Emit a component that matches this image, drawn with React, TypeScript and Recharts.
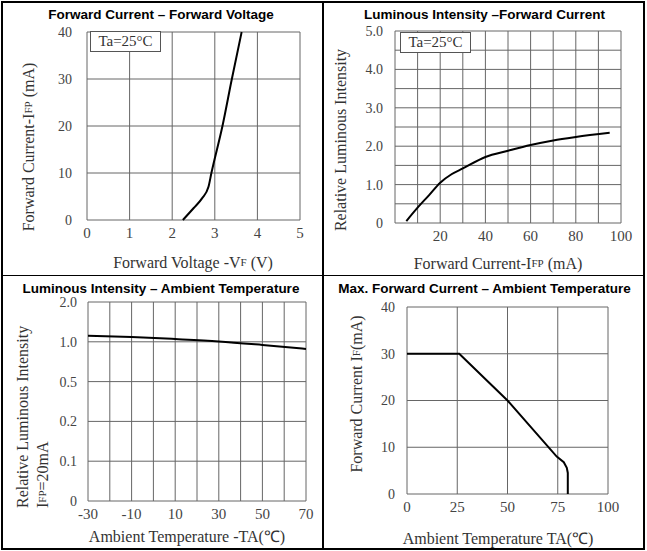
import React from 'react';
import { LineChart, Line, XAxis, YAxis, CartesianGrid, Label } from 'recharts';

// Forward current vs forward voltage
const fvVoltage = [2.25, 2.5, 2.7, 2.85, 2.92, 3.18, 3.4, 3.63];
const fvCurrent = [0, 2.5, 4.6, 7, 10, 20, 30, 40];
const fvXTicks = [0, 1, 2, 3, 4, 5];
const fvYTicks = [0, 10, 20, 30, 40];

// Relative luminous intensity vs forward current
const liCurrent = [5, 10, 15, 20, 25, 30, 40, 50, 60, 70, 80, 95];
const liIntensity = [0.05, 0.4, 0.72, 1.05, 1.27, 1.42, 1.72, 1.88, 2.03, 2.15, 2.24, 2.35];
const liXTicks = [0, 10, 20, 30, 40, 50, 60, 70, 80, 90, 100];
const liXLabels = [20, 40, 60, 80, 100];
const liYTicks = [0, 0.5, 1, 1.5, 2, 2.5, 3, 3.5, 4, 4.5, 5];

// Relative luminous intensity vs ambient temperature (non-uniform y scale)
const ltTemp = [-30, -10, 10, 30, 50, 70];
const ltIntensity = [1.15, 1.12, 1.07, 1.01, 0.96, 0.91];
const ltXTicks = [-30, -20, -10, 0, 10, 20, 30, 40, 50, 60, 70];
const ltXLabels = [-30, -10, 10, 30, 50, 70];
const ltYLevels = [0, 0.1, 0.2, 0.5, 1.0, 2.0];
const ltYLabels = ['0', '0.1', '0.2', '0.5', '1.0', '2.0'];

// Max forward current vs ambient temperature
const mfTemp = [0, 26, 50, 74.5, 78, 79.5, 80, 80];
const mfCurrent = [30, 30, 20, 8, 6.8, 5.6, 4.5, 0];
const mfXTicks = [0, 25, 50, 75, 100];
const mfYTicks = [0, 10, 20, 30, 40];

const SERIF = '"Liberation Serif", "Times New Roman", serif';
const SANS = '"Liberation Sans", Arial, sans-serif';
const GRID = '#666';

const fvData = fvVoltage.map((x, i) => ({ x, y: fvCurrent[i] }));
const liData = liCurrent.map((x, i) => ({ x, y: liIntensity[i] }));
const ltData = ltTemp.map((x, i) => ({ x, y: ltIntensity[i] }));
const mfData = mfTemp.map((x, i) => ({ x, y: mfCurrent[i] }));

// position of a value on the stepped axis 0 / 0.1 / 0.2 / 0.5 / 1.0 / 2.0
function levelPos(v: number): number {
  for (let i = 1; i < ltYLevels.length; i++) {
    if (v <= ltYLevels[i]) {
      const a = ltYLevels[i - 1];
      const b = ltYLevels[i];
      return i - 1 + (v - a) / (b - a);
    }
  }
  return ltYLevels.length - 1;
}

type Part = [string, boolean?];

function AxisTitle({ x, y, vertical, parts, anchor = 'middle' }: { x: number; y: number; vertical?: boolean; parts: Part[]; anchor?: string }) {
  return (
    <text
      x={x}
      y={y}
      transform={vertical ? `rotate(-90 ${x} ${y})` : undefined}
      textAnchor={anchor}
      dominantBaseline="central"
      fontFamily={SERIF}
      fontSize={16}
      fill="#333"
    >
      {parts.map(([t, small], i) => (
        <tspan key={i} fontSize={small ? 11 : undefined}>{t}</tspan>
      ))}
    </text>
  );
}

const tickX = { fontSize: 15, fill: '#444', fontFamily: SERIF };
const tickY = { fontSize: 14, fill: '#444', fontFamily: SERIF };

function Title({ left, top, width, text }: { left: number; top: number; width: number; text: string }) {
  return (
    <div style={{ position: 'absolute', left, top, width, textAlign: 'center', fontFamily: SANS, fontWeight: 'bold', fontSize: 13.5, lineHeight: '16px', color: '#000', whiteSpace: 'nowrap' }}>
      {text}
    </div>
  );
}

function TaBox({ left, top }: { left: number; top: number }) {
  return (
    <div style={{ position: 'absolute', left, top, width: 71, height: 21, boxSizing: 'border-box', border: '1px solid #555', background: '#fff', fontFamily: SERIF, fontSize: 15, lineHeight: '19px', textAlign: 'center', color: '#333' }}>
      Ta=25°C
    </div>
  );
}

export default function App() {
  return (
    <div style={{ position: 'absolute', left: 0, top: 0, width: 647, height: 551, background: '#fff', overflow: 'hidden' }}>
      {/* top-left */}
      <div style={{ position: 'absolute', left: 0, top: 0 }}>
        <LineChart width={322} height={275} data={fvData} margin={{ top: 32, right: 22, bottom: 0, left: 0 }}>
          <CartesianGrid stroke={GRID} strokeWidth={1} />
          <XAxis dataKey="x" type="number" domain={[0, 5]} ticks={fvXTicks} interval={0} height={55} axisLine={false} tickLine={false} tickSize={0} tickMargin={7} tick={tickX}>
            <Label content={() => <AxisTitle x={193} y={262} parts={[['Forward Voltage -V'], ['F', true], [' (V)']]} />} />
          </XAxis>
          <YAxis type="number" domain={[0, 40]} ticks={fvYTicks} interval={0} width={87} axisLine={false} tickLine={false} tickSize={0} tickMargin={15} tick={tickY}>
            <Label content={() => <AxisTitle x={28} y={147} vertical parts={[['Forward Current-I'], ['FP', true], [' (mA)']]} />} />
          </YAxis>
          <Line dataKey="y" type="monotone" stroke="#000" strokeWidth={2} dot={false} isAnimationActive={false} />
        </LineChart>
      </div>
      <Title left={0} top={7} width={322} text="Forward Current – Forward Voltage" />
      <TaBox left={90} top={31} />

      {/* top-right */}
      <div style={{ position: 'absolute', left: 323, top: 0 }}>
        <LineChart width={323} height={275} data={liData} margin={{ top: 31, right: 25, bottom: 0, left: 0 }}>
          <CartesianGrid stroke={GRID} strokeWidth={1} />
          <XAxis dataKey="x" type="number" domain={[0, 100]} ticks={liXTicks} interval={0} height={52} axisLine={false} tickLine={false} tickSize={0} tickMargin={7}
            tick={tickX} tickFormatter={(v: number) => (liXLabels.includes(v) ? String(v) : '')}>
            <Label content={() => <AxisTitle x={175} y={263} parts={[['Forward Current-I'], ['FP', true], [' (mA)']]} />} />
          </XAxis>
          <YAxis type="number" domain={[0, 5]} ticks={liYTicks} interval={0} width={72} axisLine={false} tickLine={false} tickSize={0} tickMargin={12}
            tick={tickY} tickFormatter={(v: number) => (v === 0 ? '0' : Number.isInteger(v) ? v.toFixed(1) : '')}>
            <Label content={() => <AxisTitle x={17} y={140} vertical parts={[['Relative Luminous Intensity']]} />} />
          </YAxis>
          <Line dataKey="y" type="monotone" stroke="#000" strokeWidth={2} dot={false} isAnimationActive={false} />
        </LineChart>
      </div>
      <Title left={323} top={7} width={323} text="Luminous Intensity –Forward Current" />
      <TaBox left={400} top={32} />

      {/* bottom-left */}
      <div style={{ position: 'absolute', left: 0, top: 276 }}>
        <LineChart width={322} height={274} data={ltData} margin={{ top: 26, right: 16, bottom: 0, left: 0 }}>
          <CartesianGrid stroke={GRID} strokeWidth={1} />
          <XAxis dataKey="x" type="number" domain={[-30, 70]} ticks={ltXTicks} interval={0} height={49} axisLine={false} tickLine={false} tickSize={0} tickMargin={7}
            tick={tickX} tickFormatter={(v: number) => (ltXLabels.includes(v) ? String(v) : '')}>
            <Label content={() => <AxisTitle x={187} y={260} parts={[['Ambient Temperature -TA(℃)']]} />} />
          </XAxis>
          <YAxis type="number" domain={[0, 5]} ticks={[0, 1, 2, 3, 4, 5]} interval={0} width={88} axisLine={false} tickLine={false} tickSize={0} tickMargin={11}
            tick={tickY} tickFormatter={(v: number) => ltYLabels[v] ?? ''}>
            <Label content={() => (
              <g>
                <AxisTitle x={22} y={232} vertical anchor="start" parts={[['Relative Luminous Intensity']]} />
                <AxisTitle x={42} y={232} vertical anchor="start" parts={[['I'], ['FP', true], ['=20mA']]} />
              </g>
            )} />
          </YAxis>
          <Line dataKey={(d: { y: number }) => levelPos(d.y)} type="monotone" stroke="#000" strokeWidth={2} dot={false} isAnimationActive={false} />
        </LineChart>
      </div>
      <Title left={0} top={281} width={322} text="Luminous Intensity – Ambient Temperature" />

      {/* bottom-right */}
      <div style={{ position: 'absolute', left: 323, top: 276 }}>
        <LineChart width={323} height={274} data={mfData} margin={{ top: 31, right: 38, bottom: 0, left: 0 }}>
          <CartesianGrid stroke={GRID} strokeWidth={1} />
          <XAxis dataKey="x" type="number" domain={[0, 100]} ticks={mfXTicks} interval={0} height={56} axisLine={false} tickLine={false} tickSize={0} tickMargin={7} tick={tickX}>
            <Label content={() => <AxisTitle x={175} y={262} parts={[['Ambient Temperature TA(℃)']]} />} />
          </XAxis>
          <YAxis type="number" domain={[0, 40]} ticks={mfYTicks} interval={0} width={84} axisLine={false} tickLine={false} tickSize={0} tickMargin={12} tick={tickY}>
            <Label content={() => <AxisTitle x={33} y={118} vertical parts={[['Forward Current I'], ['F', true], ['(mA)']]} />} />
          </YAxis>
          <Line dataKey="y" type="linear" stroke="#000" strokeWidth={2} dot={false} isAnimationActive={false} />
        </LineChart>
      </div>
      <Title left={323} top={281} width={323} text="Max. Forward Current – Ambient Temperature" />

      {/* frame */}
      <div style={{ position: 'absolute', left: 1, top: 1, width: 644, height: 549, boxSizing: 'border-box', border: '2px solid #000' }} />
      <div style={{ position: 'absolute', left: 322, top: 1, width: 1.5, height: 549, background: '#000' }} />
      <div style={{ position: 'absolute', left: 1, top: 274.5, width: 644, height: 1.5, background: '#000' }} />
    </div>
  );
}
